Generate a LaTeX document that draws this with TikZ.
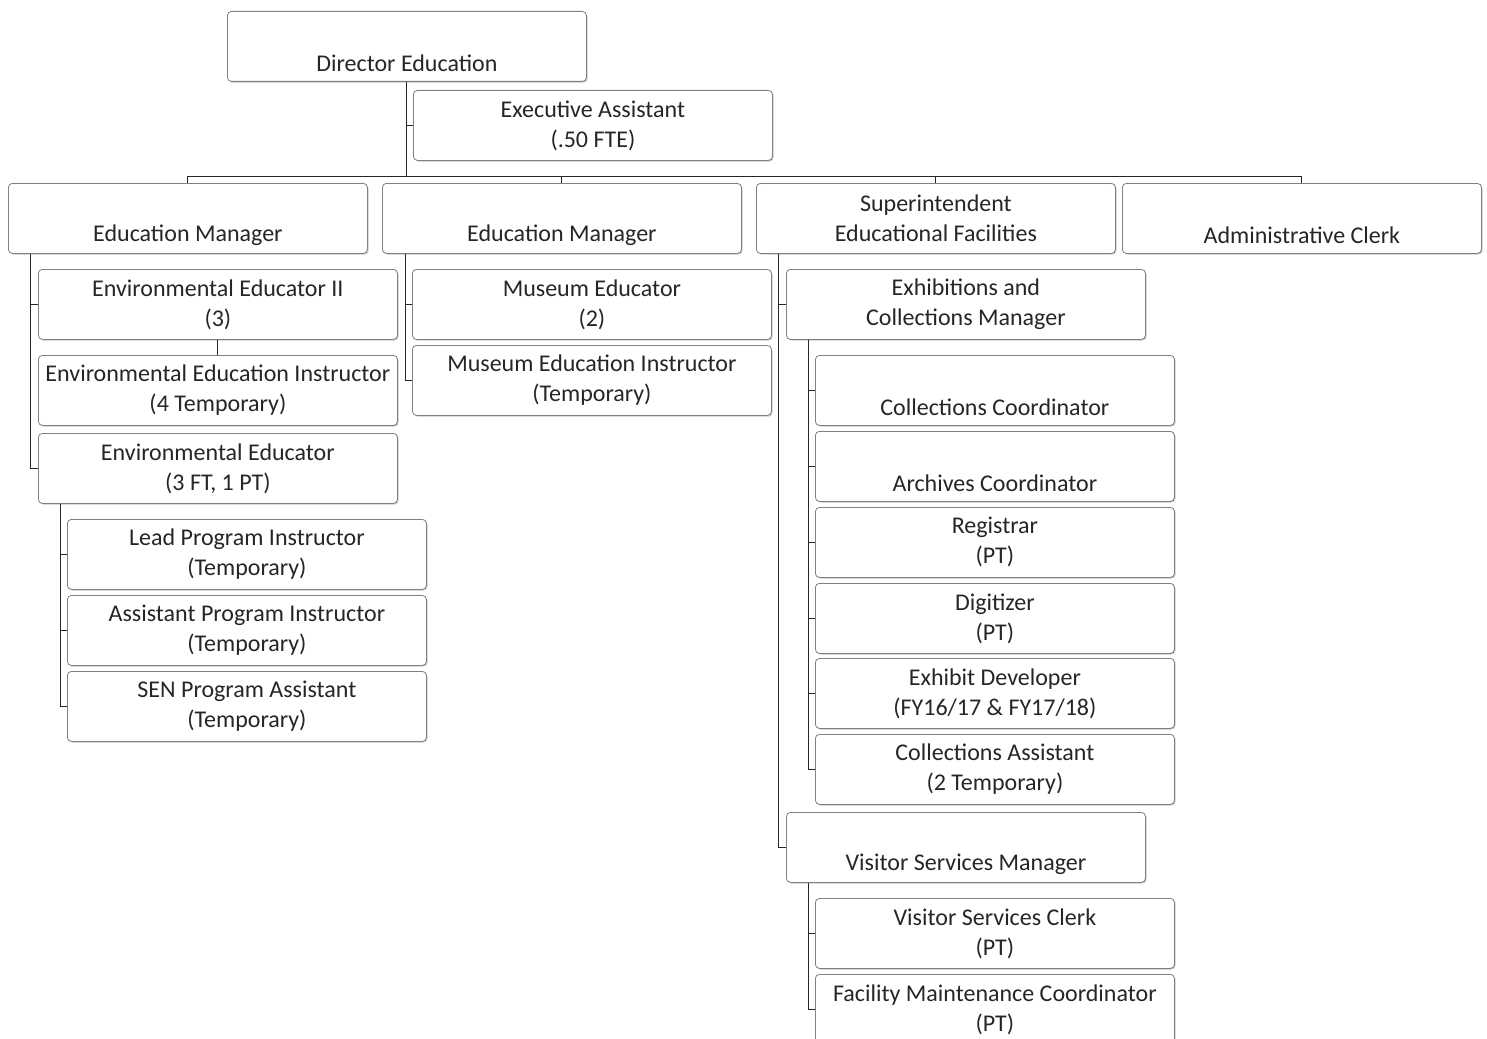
\documentclass[tikz,border=0pt]{standalone}
\usepackage{fontspec}
\setmainfont{Carlito}
\usetikzlibrary{shadows}
\begin{document}
\begin{tikzpicture}[x=0.5pt, y=-0.5pt,
		post/.style={draw=black!50, rounded corners=2pt, fill=white, anchor=north west,
			minimum width=179.5pt, minimum height=35pt, inner sep=0pt, align=center,
			text=black!85, font=\fontsize{12}{15}\selectfont,
			drop shadow={shadow xshift=0.6pt, shadow yshift=-0.6pt, fill=black!35, opacity=0.6}},
		link/.style={draw=black!85, line width=0.5pt}]
			\useasboundingbox (0,0) rectangle (1487,1038);
			% top
			\node[post] (dir) at (227,11) {\strut\\Director Education};
			\node[post] (exa) at (413,90) {Executive Assistant\\(.50 FTE)};
			% managers
			\node[post] (em1) at (8,183) {\strut\\Education Manager};
			\node[post] (em2) at (382,183) {\strut\\Education Manager};
			\node[post] (sup) at (756,183) {Superintendent\\Educational Facilities};
			\node[post] (adm) at (1122,183) {\strut\\Administrative Clerk};
			% environmental education
			\node[post] (ee2) at (38,269) {Environmental Educator II\\(3)};
			\node[post] (eei) at (38,355) {Environmental Education Instructor\\(4 Temporary)};
			\node[post] (ee) at (38,433) {Environmental Educator\\(3 FT, 1 PT)};
			\node[post] (lpi) at (67,519) {Lead Program Instructor\\(Temporary)};
			\node[post] (api) at (67,595) {Assistant Program Instructor\\(Temporary)};
			\node[post] (sen) at (67,671) {SEN Program Assistant\\(Temporary)};
			% museum
			\node[post] (mus) at (412,269) {Museum Educator\\(2)};
			\node[post] (mei) at (412,345) {Museum Education Instructor\\(Temporary)};
			% facilities
			\node[post] (ecm) at (786,269) {Exhibitions and\\Collections Manager};
			\node[post] (cc) at (815,355) {\strut\\Collections Coordinator};
			\node[post] (ac) at (815,431) {\strut\\Archives Coordinator};
			\node[post] (reg) at (815,507) {Registrar\\(PT)};
			\node[post] (dig) at (815,583) {Digitizer\\(PT)};
			\node[post] (exd) at (815,658) {Exhibit Developer\\(FY16/17 \& FY17/18)};
			\node[post] (ca) at (815,734) {Collections Assistant\\(2 Temporary)};
			\node[post] (vsm) at (786,812) {\strut\\Visitor Services Manager};
			\node[post] (vsc) at (815,898) {Visitor Services Clerk\\(PT)};
			\node[post] (fmc) at (815,974) {Facility Maintenance Coordinator\\(PT)};
			% connectors
			\draw[link] (dir.south) |- (exa.west);
			\foreach \m in {em1,em2,sup,adm} \draw[link] (dir.south) |- ([yshift=3.5pt]\m.north) -- (\m.north);
			\foreach \c in {ee2,ee} \draw[link] ([xshift=11pt]em1.south west) |- (\c.west);
			\draw[link] (ee2.south) -- (eei.north);
			\foreach \c in {lpi,api,sen} \draw[link] ([xshift=11pt]ee.south west) |- (\c.west);
			\foreach \c in {mus,mei} \draw[link] ([xshift=11.5pt]em2.south west) |- (\c.west);
			\foreach \c in {ecm,vsm} \draw[link] ([xshift=11pt]sup.south west) |- (\c.west);
			\foreach \c in {cc,ac,reg,dig,exd,ca} \draw[link] ([xshift=11pt]ecm.south west) |- (\c.west);
			\foreach \c in {vsc,fmc} \draw[link] ([xshift=11pt]vsm.south west) |- (\c.west);
		\end{tikzpicture}
\end{document}
